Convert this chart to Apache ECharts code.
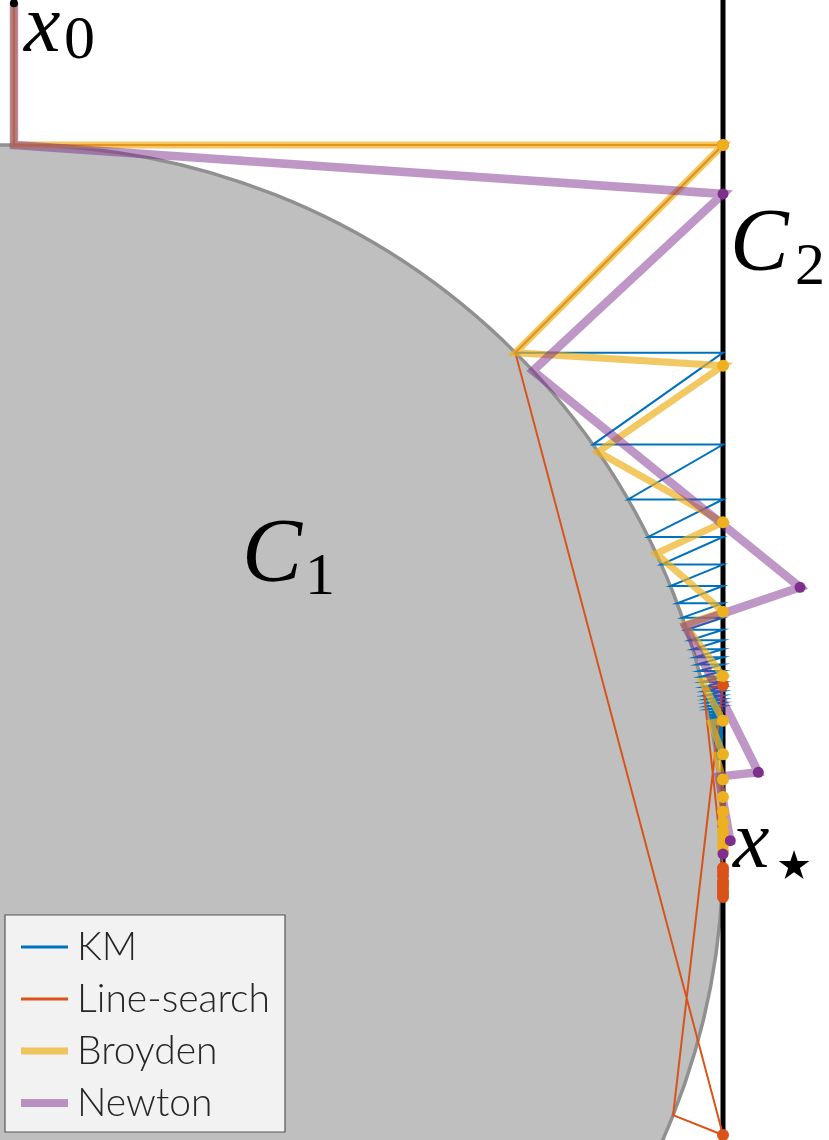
<!DOCTYPE html>
<html>
<head>
<meta charset="utf-8">
<script src="https://cdn.jsdelivr.net/npm/echarts@6/dist/echarts.min.js"></script>
<style>
html, body { margin: 0; padding: 0; background: #fff; }
#chart { width: 829px; height: 1140px; }
</style>
</head>
<body>
<div id="chart"></div>
<script>
// sets: disk C1 (centre, radius) and the line C2 at x = lineX
var diskCenter = [0, 0];
var diskRadius = 1;
var lineX = 1;
var lineYRange = [1.21, -0.394];
var x0 = [0, 1.2];

// KM: circle points (kmCircleX, kmY), then line points (lineX, kmY)
var kmY = [1, .7071, .5774, .5, .4472, .4082, .378, .3536, .3333, .3162, .3015, .2887, .2774, .2673,
  .2582, .25, .2425, .2357, .2294, .2236, .2182, .2132, .2085, .2041, .2, .1961, .1925, .189, .1857,
  .1826, .1796, .1768, .1741, .1715, .169, .1667, .1644, .1622, .1601, .1581, .1562, .1543, .1525,
  .1508, .1491, .1474, .1459, .1443, .1429, .1414, .14, .1387, .1374, .1361, .1348, .1336];
var kmCircleX = [0, .7071, .8165, .866, .8944, .9129, .9258, .9354, .9428, .9487, .9535, .9574, .9608,
  .9636, .9661, .9682, .9701, .9718, .9733, .9747, .9759, .977, .978, .9789, .9798, .9806, .9813, .982,
  .9826, .9832, .9837, .9843, .9847, .9852, .9856, .986, .9864, .9867, .9871, .9874, .9877, .988, .9883,
  .9886, .9888, .9891, .9893, .9895, .9897, .9899, .9901, .9903, .9905, .9907, .9909, .991];

// Line-search: iterates on C2 (y only) and their projections onto C1
var lsIterY = [1, -0.3963, 0.2384, -0.0197, -0.0606, -0.025, -0.056, -0.031, -0.052, -0.038, -0.046, -0.042];
var lsProj = [[0, 1], [.7071, .7071], [.9296, -.3684], [.9727, .2319], [.9998, -.0197],
  [.9982, -.0605], [.9997, -.025], [.9984, -.0559], [.9995, -.031], [.9986, -.0519], [.9993, -.038], [.9989, -.046]];

// Broyden
var broydenIterY = [1, .6887, .4678, .3417, .2511, .188, .1406, .1051, .0804, .0597, .0444, .0324,
  .0226, .0127, .0035];
var broydenProj = [[0, 1], [.7071, .7071], [.8236, .5672], [.9058, .4237], [.9463, .3233], [.9699, .2435],
  [.9828, .1848], [.9903, .1392], [.9945, .1045], [.9968, .0801], [.9982, .0596], [.999, .0444],
  [.9995, .0324], [.9997, .0226], [.9999, .0127]];

// Newton
var newtonIter = [[1, .931], [1.1086, .3762], [1.0498, .1152], [1.0103, .0188], [1, 0]];
var newtonProj = [[0, 1], [.7319, .6814], [.947, .3213], [.994, .1091], [.9998, .0186]];

var colors = { km: '#0072BD', ls: '#D95319', broyden: '#EDB120', newton: '#7E2F8E' };

function onLine(ys) {
  return ys.map(function (y) { return [lineX, y]; });
}
function buildPath(start, proj, iter) {
  var p = [start];
  for (var i = 0; i < iter.length; i++) {
    p.push(proj[i]);
    p.push(iter[i]);
  }
  return p;
}

var kmCircle = kmCircleX.map(function (x, i) { return [x, kmY[i]]; });
var kmPath = buildPath(x0, kmCircle, onLine(kmY));
var lsIter = onLine(lsIterY);
var lsPath = buildPath(x0, lsProj, lsIter);
var broydenIter = onLine(broydenIterY);
var broydenPath = buildPath(x0, broydenProj, broydenIter);
var newtonPath = buildPath(x0, newtonProj, newtonIter);

function pathSeries(name, data, color, width, opacity, z) {
  return {
    type: 'line', name: name, data: data, z: z, symbol: 'none', showSymbol: false, smooth: false,
    lineStyle: { color: color, width: width, opacity: opacity, join: 'miter', miterLimit: 10, cap: 'butt' },
    itemStyle: { color: color, opacity: opacity },
    emphasis: { disabled: true }, silent: true
  };
}
function dotSeries(name, data, color, size, z) {
  return {
    type: 'scatter', name: name, data: data, z: z, symbol: 'circle', symbolSize: size,
    itemStyle: { color: color, opacity: 1 }, emphasis: { disabled: true }, silent: true
  };
}

var chart = echarts.init(document.getElementById('chart'));
var labelFont = '"Liberation Serif", "DejaVu Serif", serif';
function label(x, y, text, font) {
  return { type: 'text', z: 20, x: x, y: y,
    style: { text: text, font: font, fill: '#000', textAlign: 'left', textVerticalAlign: 'middle' } };
}
chart.setOption({
  animation: false,
  backgroundColor: '#fff',
  grid: { left: 0, right: 0, top: 0, bottom: 0 },
  xAxis: { type: 'value', min: -0.0197, max: 1.1495, show: false },
  yAxis: { type: 'value', min: -0.4034, max: 1.2045, show: false },
  legend: {
    z: 20,
    data: [
      { name: 'KM', lineStyle: { width: 3 } },
      { name: 'Line-search', lineStyle: { width: 3 } },
      { name: 'Broyden', lineStyle: { width: 7 } },
      { name: 'Newton', lineStyle: { width: 8 } }
    ],
    orient: 'vertical', left: 12, top: 922,
    itemWidth: 47, itemHeight: 14, itemGap: 12,
    selectedMode: false,
    itemStyle: { opacity: 0 },
    textStyle: { fontFamily: 'Lato', fontWeight: 300, fontSize: 39, color: '#262626', lineHeight: 40, padding: [0, 0, 0, 4] }
  },
  graphic: [
    { type: 'rect', z: 15, shape: { x: 5, y: 915, width: 280, height: 217 },
      style: { fill: '#f2f2f2', stroke: '#555', lineWidth: 1.2 } },
    label(24, 29, 'x', 'italic 82px ' + labelFont),
    label(64, 42, '0', '62px ' + labelFont),
    label(730, 246, 'C', 'italic 88px ' + labelFont),
    label(795, 268, '2', '60px ' + labelFont),
    label(242, 557, 'C', 'italic 90px ' + labelFont),
    label(305, 578, '1', '60px ' + labelFont),
    label(733, 845, 'x', 'italic 82px ' + labelFont),
    label(769, 870, '\u22c6', '80px "DejaVu Sans"')
  ],
  series: [
    {
      type: 'custom', name: 'C1', silent: true, z: 1,
      data: [[diskCenter[0], diskCenter[1], diskRadius]],
      renderItem: function (params, api) {
        var c = api.coord([api.value(0), api.value(1)]);
        var r = api.size([api.value(2), 0])[0];
        return {
          type: 'circle', shape: { cx: c[0], cy: c[1], r: r },
          style: { fill: '#bfbfbf', stroke: '#909090', lineWidth: 3.5 }
        };
      }
    },
    pathSeries('C2', [[lineX, lineYRange[0]], [lineX, lineYRange[1]]], '#000', 5, 1, 2),
    pathSeries('KM', kmPath, colors.km, 2, 1, 3),
    pathSeries('Line-search', lsPath, colors.ls, 2, 1, 4),
    pathSeries('Broyden', broydenPath, colors.broyden, 7, 0.7, 5),
    pathSeries('Newton', newtonPath, colors.newton, 8.5, 0.5, 6),
    dotSeries('Line-search iterates', lsIter, colors.ls, 12, 7),
    dotSeries('Broyden iterates', broydenIter, colors.broyden, 12, 8),
    dotSeries('Newton iterates', newtonIter, colors.newton, 11, 9),
    dotSeries('x0', [x0], '#000', 8, 10)
  ]
});
</script>
</body>
</html>
